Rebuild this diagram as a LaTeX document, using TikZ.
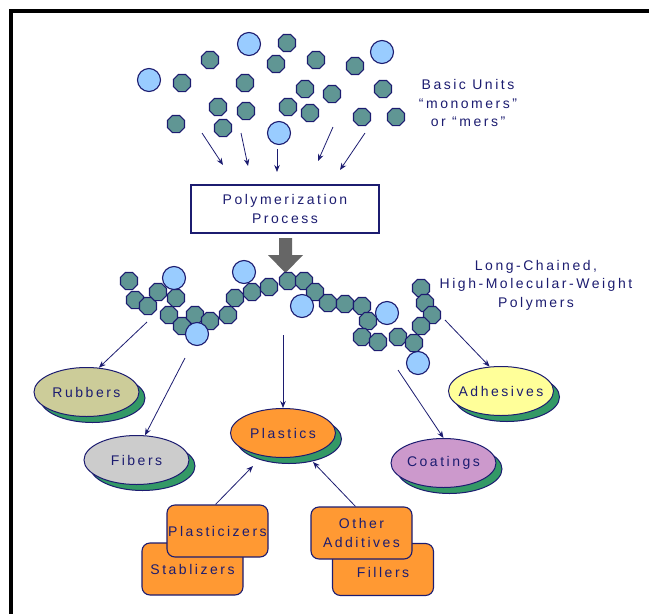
\documentclass[tikz,border=0pt]{standalone}
\usepackage{fontspec}
\setmainfont{Liberation Sans}[LetterSpace=18]
\usetikzlibrary{shapes.geometric,arrows.meta}

\definecolor{inkblue}{RGB}{28,28,112}
\definecolor{monoteal}{RGB}{96,150,148}
\definecolor{monoblue}{RGB}{153,204,255}
\definecolor{shadegreen}{RGB}{51,153,102}
\definecolor{rubberfill}{RGB}{204,204,153}
\definecolor{fiberfill}{RGB}{204,204,204}
\definecolor{orangefill}{RGB}{255,153,51}
\definecolor{coatfill}{RGB}{204,153,204}
\definecolor{adhfill}{RGB}{255,255,153}
\definecolor{bigarrow}{RGB}{102,102,102}

\tikzset{
  every node/.style={font=\fontsize{14}{18.5}\selectfont, text=inkblue},
  mono/.style={regular polygon, regular polygon sides=8, minimum size=18.5pt,
    inner sep=0pt, fill=monoteal, draw=inkblue, line width=1.1pt},
  bigmono/.style={circle, minimum size=23pt, inner sep=0pt,
    fill=monoblue, draw=inkblue, line width=1.1pt},
  link/.style={draw=inkblue, line width=0.8pt, -{Stealth[length=7pt,width=5.5pt]}},
  prod/.style={ellipse, minimum width=105pt, minimum height=49pt, inner sep=0pt,
    draw=inkblue, line width=1pt},
  prodshade/.style={prod, fill=shadegreen},
  addbox/.style={rectangle, rounded corners=8pt, minimum width=101pt,
    minimum height=52pt, inner sep=0pt, fill=orangefill, draw=inkblue,
    line width=1.1pt, align=center},
  procbox/.style={rectangle, minimum width=188pt, minimum height=48pt,
    draw=inkblue, line width=1.2pt, align=center},
  caption/.style={align=center}
}

\begin{document}
\begin{tikzpicture}[x=1pt,y=-1pt]
\useasboundingbox (0,0) rectangle (649,614);

% frame
\draw[line width=4pt] (11,614) -- (11,11) -- (649,11);

% free monomers
\foreach \x/\y [count=\i] in {287/43,210/60,316/60,276/64,355/66,182/83,245/83,
    305/89,332/94,383/89,218/107,246/111,288/107,310/113,176/124,223/128,
    362/117,396/117}
  \node[mono] (m\i) at (\x,\y) {};
\foreach \x/\y [count=\i] in {249/44,382/52,149/80,279/133}
  \node[bigmono] (b\i) at (\x,\y) {};

\node[caption] (units) at (468,103) {Basic Units\\“monomers”\\or “mers”};

% monomers feeding the process
\foreach \sx/\sy/\ex/\ey [count=\i] in {202/133/223/165, 241/133/248/166,
    277/149/277/172, 333/127/318/161, 365/133/340/170} {
  \coordinate (fs\i) at (\sx,\sy);
  \coordinate (fe\i) at (\ex,\ey);
  \draw[link] (fs\i) -- (fe\i);
}

\node[procbox] (proc) at (285,209) {Polymerization\\Process};

% big gray arrow
\fill[bigarrow] (279,238) -- (292,238) -- (292,255) -- (303,255) -- (285.5,273)
  -- (268,255) -- (279,255) -- cycle;

% polymer chain
\foreach \x/\y [count=\i] in {129/281,135/300,148/306,158/292,176/298,169/315,
    182/326,195/315,210/321,228/315,235/298,252/292,269/287,288/281,304/281,
    315/292,328/303,345/304,362/306,368/321,362/337,378/342,398/337,414/343,
    421/288,425/303,432/315,421/326}
  \node[mono] (c\i) at (\x,\y) {};
\foreach \x/\y [count=\i] in {174/278,244/272,302/306,387/313,197/334,418/363}
  \node[bigmono] (cb\i) at (\x,\y) {};

\node[caption] (chaintext) at (536,285) {Long-Chained,\\High-Molecular-Weight\\Polymers};

% products
\node[prodshade] (rubbers-sh) at (92.5,398) {};
\node[prod, fill=rubberfill] (rubbers) at (86.5,392) {\makebox[0pt]{Rubbers}};
\node[prodshade] (fibers-sh) at (142.5,466) {};
\node[prod, fill=fiberfill] (fibers) at (136.5,460) {\makebox[0pt]{Fibers}};
\node[prodshade] (plastics-sh) at (289,439) {};
\node[prod, fill=orangefill] (plastics) at (283,433) {\makebox[0pt]{Plastics}};
\node[prodshade] (coatings-sh) at (449.5,469) {};
\node[prod, fill=coatfill] (coatings) at (443.5,463) {\makebox[0pt]{Coatings}};
\node[prodshade] (adhesives-sh) at (507,397) {};
\node[prod, fill=adhfill] (adhesives) at (501,391) {\makebox[0pt]{Adhesives}};

% chain to products
\coordinate (sr) at (147,322);
\coordinate (sf) at (185,358);
\coordinate (sp) at (283,335);
\coordinate (sc) at (398,370);
\coordinate (sa) at (445,320);
\draw[link] (sr) -- (rubbers.63);
\draw[link] (sf) -- (fibers.71);
\draw[link] (sp) -- (plastics.north);
\draw[link] (sc) -- (coatings.north);
\draw[link] (sa) -- (adhesives.115);

% additives
\node[addbox] (stab) at (192.5,569) {Stablizers};
\node[addbox] (plast) at (217.5,531) {Plasticizers};
\node[addbox] (fill) at (383,569.5) {\\[-3pt]Fillers};
\node[addbox] (oadd) at (361.5,533) {Other\\Additives};

\coordinate (tl) at (253,466);
\coordinate (tr) at (313,462);
\draw[link] ([xshift=-2pt]plast.north) -- (tl);
\draw[link] ([xshift=-6pt]oadd.north) -- (tr);
\end{tikzpicture}
\end{document}
